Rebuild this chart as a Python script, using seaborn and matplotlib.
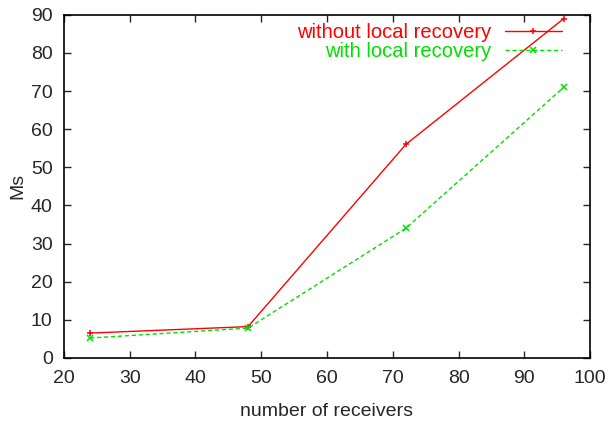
import numpy as np
import pandas as pd
import seaborn as sns
import matplotlib
matplotlib.use("Agg")
import matplotlib.pyplot as plt

# data
receivers = [24, 48, 72, 96]
without_local = [6.5, 8.2, 56, 89]
with_local = [5.2, 7.8, 34, 71]

df = pd.DataFrame({
    "receivers": receivers * 2,
    "Ms": without_local + with_local,
    "series": ["without local recovery"] * 4 + ["with local recovery"] * 4,
})

sns.set_style("ticks")
plt.rcParams["font.family"] = ["Liberation Sans", "DejaVu Sans"]

fig = plt.figure(figsize=(6.14, 4.23), dpi=100)
ax = fig.add_axes([0.104, 0.154, 0.857, 0.811])

red, green = "#ff0000", "#00e000"
palette = {"without local recovery": red, "with local recovery": green}
sns.lineplot(data=df, x="receivers", y="Ms", hue="series", style="series",
             palette=palette, markers={"without local recovery": "+", "with local recovery": "x"},
             dashes={"without local recovery": "", "with local recovery": (3, 2)},
             linewidth=1, markersize=5, markeredgewidth=1.1, ax=ax)

# seaborn paints marker edges white; give them the line colour
for ln in ax.lines:
    ln.set_markeredgecolor(ln.get_color())

ax.set_xlim(20, 100)
ax.set_ylim(0, 90)
ax.set_xticks(np.arange(20, 101, 10))
ax.set_yticks(np.arange(0, 91, 10))
ax.tick_params(direction="in", top=True, right=True, labelsize=14, length=5, width=1)
ax.tick_params(axis="x", pad=9)
ax.tick_params(axis="y", pad=8)
for s in ax.spines.values():
    s.set_linewidth(1.2)
    s.set_color("black")
ax.set_xlabel("number of receivers", fontsize=14, labelpad=11)
ax.set_ylabel("Ms", fontsize=14, labelpad=3)

leg = ax.legend(loc="upper right", bbox_to_anchor=(0.965, 1.005), frameon=False,
                markerfirst=False, fontsize=14.5, handlelength=2.8,
                labelcolor="linecolor", borderaxespad=0.1,
                handletextpad=0.7, labelspacing=0.0)
for h in leg.legend_handles:
    h.set_markeredgecolor(h.get_color())

fig.savefig("out.png", dpi=100)
